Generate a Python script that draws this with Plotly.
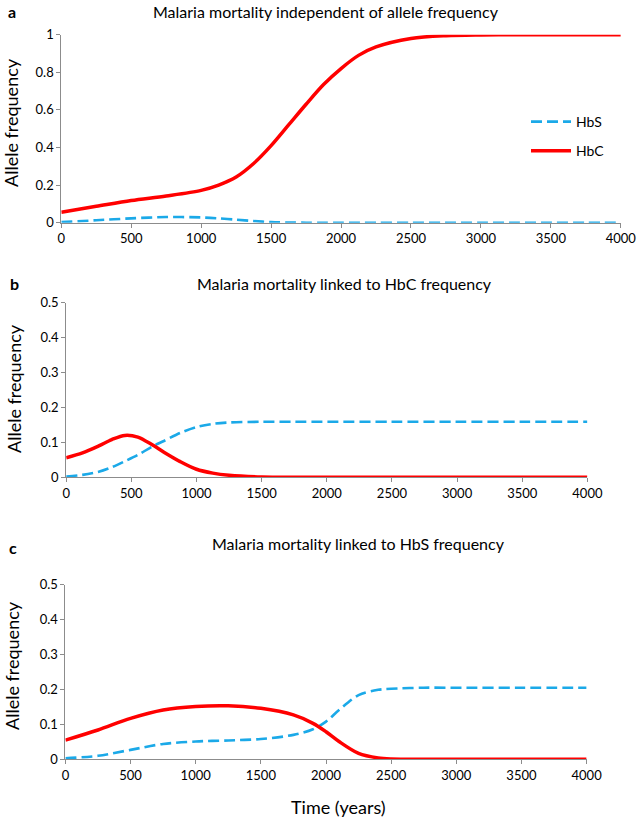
import plotly.graph_objects as go

# ---- data ----
a_years = [0, 250, 500, 750, 1000, 1125, 1250, 1375, 1500, 1625, 1750, 1875, 2000, 2125, 2250, 2500, 2750, 3000, 3250, 3500, 3750, 4000]

# panel a: malaria mortality independent of allele frequency
a_hbc = [0.056, 0.087, 0.118, 0.142, 0.172, 0.2, 0.243, 0.315, 0.41, 0.52, 0.63, 0.735, 0.82, 0.89, 0.935, 0.98, 0.995, 0.999, 1.0, 1.0, 1.0, 1.0]
a_hbs = [0.003, 0.013, 0.023, 0.03, 0.028, 0.023, 0.016, 0.009, 0.003, 0.001, 0.0, 0.0, 0.0, 0.0, 0.0, 0.0, 0.0, 0.0, 0.0, 0.0, 0.0, 0.0]

# panel b: linked to HbC frequency
b_years = [0, 125, 250, 350, 450, 550, 660, 750, 875, 1000, 1125, 1250, 1500, 1750, 2000, 2500, 3000, 3500, 4000]
b_hbc = [0.056, 0.07, 0.09, 0.108, 0.12, 0.115, 0.093, 0.072, 0.045, 0.023, 0.012, 0.006, 0.001, 0.0, 0.0, 0.0, 0.0, 0.0, 0.0]
b_hbs = [0.002, 0.007, 0.016, 0.029, 0.046, 0.064, 0.088, 0.104, 0.127, 0.144, 0.153, 0.157, 0.159, 0.159, 0.159, 0.159, 0.159, 0.159, 0.159]

# panel c: linked to HbS frequency
c_years = [0, 250, 500, 750, 1000, 1250, 1500, 1750, 1900, 2000, 2100, 2250, 2400, 2500, 2750, 3000, 3500, 4000]
c_hbc = [0.055, 0.084, 0.117, 0.141, 0.151, 0.153, 0.146, 0.127, 0.103, 0.079, 0.051, 0.017, 0.004, 0.001, 0.0, 0.0, 0.0, 0.0]
c_hbs = [0.003, 0.01, 0.027, 0.044, 0.051, 0.054, 0.058, 0.07, 0.086, 0.108, 0.141, 0.184, 0.199, 0.202, 0.205, 0.205, 0.205, 0.205]

x_ticks = [0, 500, 1000, 1500, 2000, 2500, 3000, 3500, 4000]
titles = ["Malaria mortality independent of allele frequency",
          "Malaria mortality linked to HbC frequency",
          "Malaria mortality linked to HbS frequency"]
panel_labels = ["a", "b", "c"]

W, H = 637, 818
FONT = "Lato"
RED = "#FF0000"
BLUE = "#1BA9E8"
AX = "#8C8C8C"

fig = go.Figure()

def px_x(v):
    return v / W

def px_y(v):
    return 1 - v / H

# pixel boxes (left, right, top, bottom)
boxes = [(61.3, 620.8, 34.7, 222.7), (66.2, 587.4, 302.7, 477.3), (65.4, 586.6, 584.7, 759.3)]
series = [(a_years, a_hbs, a_hbc), (b_years, b_hbs, b_hbc), (c_years, c_hbs, c_hbc)]
title_pos = [(326, 12), (344, 283), (358, 543)]
ytitle_pos = [(11, 123), (14, 389), (12, 666)]
label_pos = [(12, 12), (14, 283), (13, 547)]

for i, ((l, r, t, b), (xs, hbs, hbc)) in enumerate(zip(boxes, series)):
    n = "" if i == 0 else str(i + 1)
    fig.add_trace(go.Scatter(x=xs, y=hbs, mode="lines", name="HbS", showlegend=(i == 0),
                             legendgroup="s",
                             line=dict(color=BLUE, width=2.6, dash="11px,5px", shape="spline", smoothing=0.9),
                             xaxis="x" + n, yaxis="y" + n))
    fig.add_trace(go.Scatter(x=xs, y=hbc, mode="lines", name="HbC", showlegend=(i == 0),
                             legendgroup="c",
                             line=dict(color=RED, width=3.5, shape="spline", smoothing=0.9),
                             xaxis="x" + n, yaxis="y" + n))
    ymax = 1 if i == 0 else 0.5
    ydt = 0.2 if i == 0 else 0.1
    fig.update_layout(**{
        "xaxis" + n: dict(domain=[px_x(l), px_x(r)], range=[0, 4000], tickvals=x_ticks,
                          showline=True, linecolor=AX, linewidth=1, ticks="outside", ticklen=4,
                          tickcolor=AX, showgrid=False, zeroline=False, anchor="y" + n,
                          automargin=False,
                          tickfont=dict(family=FONT, size=13, color="#000")),
        "yaxis" + n: dict(domain=[px_y(b), px_y(t)], range=[0, ymax], dtick=ydt,
                          tickformat="~g", automargin=False,
                          showline=True, linecolor=AX, linewidth=1, ticks="outside", ticklen=4,
                          tickcolor=AX, showgrid=False, zeroline=False, anchor="x" + n,
                          tickfont=dict(family=FONT, size=13, color="#000")),
    })
    fig.add_annotation(text=titles[i], x=px_x(title_pos[i][0]), y=px_y(title_pos[i][1]),
                       xref="paper", yref="paper", showarrow=False,
                       font=dict(family=FONT, size=16, color="#000"), xanchor="center", yanchor="middle")
    fig.add_annotation(text="Allele frequency", x=px_x(ytitle_pos[i][0]), y=px_y(ytitle_pos[i][1]),
                       xref="paper", yref="paper", showarrow=False, textangle=-90,
                       font=dict(family=FONT, size=18, color="#000"), xanchor="center", yanchor="middle")
    fig.add_annotation(text="<b>%s</b>" % panel_labels[i], x=px_x(label_pos[i][0]), y=px_y(label_pos[i][1]),
                       xref="paper", yref="paper", showarrow=False,
                       font=dict(family=FONT, size=16, color="#000"), xanchor="center", yanchor="middle")

fig.add_annotation(text="Time (years)", x=px_x(338), y=px_y(807), xref="paper", yref="paper",
                   showarrow=False, font=dict(family=FONT, size=18, color="#000"),
                   xanchor="center", yanchor="middle")

fig.update_layout(
    width=W, height=H,
    template="none",
    hovermode=False,
    margin=dict(l=0, r=0, t=0, b=0, pad=0),
    paper_bgcolor="white", plot_bgcolor="white",
    legend=dict(x=px_x(526), y=px_y(106), xanchor="left", yanchor="top",
                font=dict(family=FONT, size=14, color="#000"), bgcolor="rgba(0,0,0,0)",
                traceorder="grouped", tracegroupgap=8, itemwidth=40, borderwidth=0),
    showlegend=True,
)

fig.write_html("out.html", config={"displayModeBar": False},
               post_script="document.body.style.margin='0';document.body.style.overflow='hidden';")
